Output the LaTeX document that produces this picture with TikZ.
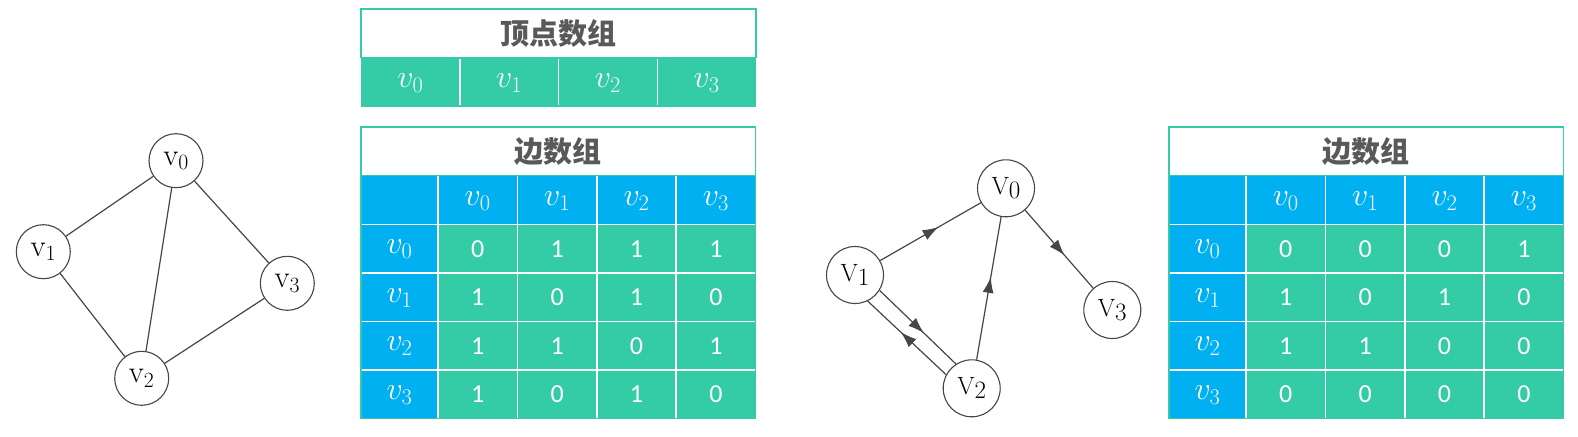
\RequirePackage{fix-cm}
\documentclass[tikz,border=0pt]{standalone}
\usepackage{fontspec}
\newfontfamily\cjk{Noto Sans CJK SC}
\newfontfamily\cellfont{Carlito}
\usetikzlibrary{arrows.meta,decorations.markings}

\definecolor{cellgreen}{RGB}{51,204,166}
\definecolor{cellblue}{RGB}{0,176,240}
\definecolor{titlegray}{RGB}{89,89,89}
\definecolor{linkgray}{RGB}{70,70,70}

\tikzset{
	vtx/.style={circle,draw=linkgray,line width=1.1pt,minimum size=54pt,inner sep=0pt,font=\fontsize{31}{33}\selectfont},
	bigvtx/.style={vtx,minimum size=57pt,font=\fontsize{25}{27}\selectfont},
	link/.style={draw=linkgray,color=linkgray,line width=1.2pt},
	midarrow/.style={link,postaction={decorate},decoration={markings,mark=at position 0.58 with {\arrow{Latex[length=16pt,width=11pt]}}}},
	titlecell/.style={draw=cellgreen,line width=1.5pt,fill=white},
	titletxt/.style={text=titlegray,font=\cjk\bfseries\fontsize{29}{31}\selectfont},
	headtxt/.style={text=white,font=\fontsize{32}{34}\selectfont},
	celltxt/.style={text=white,font=\cellfont\fontsize{26}{28}\selectfont},
	gridline/.style={draw=white,line width=1.5pt},
}

% vertex label with a lowered digit
\newcommand{\vname}[1]{V\raisebox{-4pt}{#1}}

% edge array: left x, name prefix, rows
\newcommand{\edgetable}[3]{%
	\begin{scope}[shift={(#1,0)}]
		% title row
		\draw[titlecell] (0,127) rectangle (394.6,176);
		\node[titletxt] (#2-title) at (197.3,151.5) {边数组};

		% header and cells
		\fill[cellblue] (0,176) rectangle (394.6,224.5);
		\fill[cellblue] (0,224.5) rectangle (77,418.5);
		\fill[cellgreen] (77,224.5) rectangle (394.6,418.5);

		% grid
		\foreach \k in {0,...,3}
			\draw[gridline] ({77+79.4*\k},176) -- ({77+79.4*\k},418.5);
		\foreach \k in {1,...,4}
			\draw[gridline] (0,{176+48.5*\k}) -- (394.6,{176+48.5*\k});
		\draw[cellgreen,line width=1.5pt] (0,127) rectangle (394.6,418.5);

		% labels
		\foreach \k in {0,...,3} {
			\node[headtxt] (#2-col\k) at ({116.7+79.4*\k},201) {$v_\k$};
			\node[headtxt] (#2-row\k) at (38.5,{249.5+48.5*\k}) {$v_\k$};
		}

		% values
		\foreach \row [count=\i from 0] in {#3} {
			\foreach \val [count=\j from 0] in \row
				\node[celltxt] (#2-\i-\j) at ({116.7+79.4*\j},{248.75+48.5*\i}) {\val};
		}
	\end{scope}
}

\begin{document}
\begin{tikzpicture}[x=1pt,y=-1pt]
	\path[use as bounding box,fill=white] (0,0) rectangle (1578,436);

	% undirected graph
	\node[vtx] (a0) at (176,160.7) {v$_0$};
	\node[vtx] (a1) at (43.3,251.7) {v$_1$};
	\node[vtx] (a2) at (141.7,378.3) {v$_2$};
	\node[vtx] (a3) at (287.3,283.3) {v$_3$};

	\draw[link] (a0) -- (a1);
	\draw[link] (a0) -- (a2);
	\draw[link] (a0) -- (a3);
	\draw[link] (a1) -- (a2);
	\draw[link] (a2) -- (a3);

	% vertex array
	\draw[titlecell] (361,9) rectangle (756,57.5);
	\node[titletxt] (vtitle) at (558.5,33.25) {顶点数组};
	\fill[cellgreen] (361,57.5) rectangle (756,107);
	\foreach \k in {1,2,3}
		\draw[gridline] ({361+98.75*\k},59) -- ({361+98.75*\k},105);
	\foreach \k in {0,...,3}
		\node[headtxt] (vx\k) at ({410.4+98.75*\k},83) {$v_\k$};

	% edge arrays
	\edgetable{361}{la}{{0,1,1,1},{1,0,1,0},{1,1,0,1},{1,0,1,0}}
	\edgetable{1169}{ra}{{0,0,0,1},{1,0,1,0},{1,1,0,0},{0,0,0,0}}

	% directed graph
	\node[bigvtx] (b0) at (1006,188.3) {\vname{0}};
	\node[bigvtx] (b1) at (855,275) {\vname{1}};
	\node[bigvtx] (b2) at (971.7,388.3) {\vname{2}};
	\node[bigvtx] (b3) at (1112.3,310) {\vname{3}};

	\draw[midarrow] (b1) -- (b0);
	\draw[midarrow] (b0) -- (b3);
	\draw[midarrow] (b2) -- (b0);
	\draw[midarrow] (b1.-32) -- (b2.123);
	\draw[midarrow] (b2.152) -- (b1.-64);
\end{tikzpicture}
\end{document}
